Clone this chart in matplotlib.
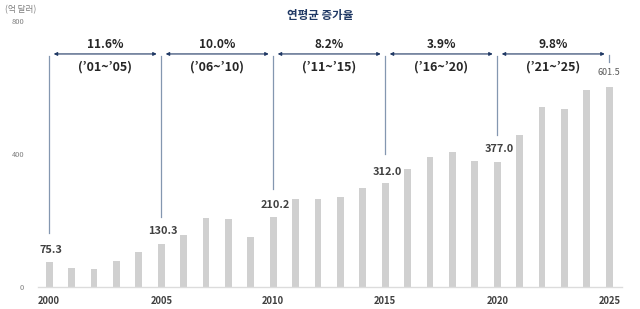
import matplotlib
matplotlib.use("Agg")
import matplotlib.pyplot as plt

plt.rcParams['font.family'] = ['Noto Sans CJK KR', 'DejaVu Sans']

years = list(range(2000, 2026))
values = [75.3, 59, 54, 80, 105, 130.3, 157, 208, 204, 152, 210.2, 266, 266, 271, 299,
          312.0, 356, 391, 407, 379, 377.0, 457, 542, 536, 593, 601.5]
label_years = [2000, 2005, 2010, 2015, 2020, 2025]
label_texts = ["75.3", "130.3", "210.2", "312.0", "377.0", "601.5"]
periods_start = [2000, 2005, 2010, 2015, 2020]
rates = ["11.6%", "10.0%", "8.2%", "3.9%", "9.8%"]
period_labels = ["('01~'05)", "('06~'10)", "('11~'15)", "('16~'20)", "('21~'25)"]
line_ends = [164, 211, 296, 401, 458]
xtick_years = [2000, 2005, 2010, 2015, 2020, 2025]
ytick_vals = [0, 400, 800]

W, H = 640, 309
fig = plt.figure(figsize=(6.4, 3.09), dpi=100)
ax = fig.add_axes([38 / W, (309 - 287.3) / H, 584 / W, (287.3 - 21) / H])
ax.set_xlim(1999.5, 2025.57)
ax.set_ylim(0, 800)

ax.bar(years, values, width=0.31, color='#d0d0d0', zorder=2)

for s in ['top', 'right', 'left']:
    ax.spines[s].set_visible(False)
ax.spines['bottom'].set_color('#dcdcdc')
ax.spines['bottom'].set_linewidth(1)

ax.set_xticks(xtick_years)
ax.set_xticklabels([str(y) for y in xtick_years], fontsize=6.8, fontweight='bold', color='#404040')
ax.set_yticks(ytick_vals)
ax.set_yticklabels([str(v) for v in ytick_vals], fontsize=5.4, color='#7f7f7f')
ax.tick_params(axis='x', length=0, pad=6)
ax.tick_params(axis='y', length=0, pad=10)

navy = '#1f3864'
vcol = '#8497b0'

# value labels
label_y = [112, 169, 247, 347, 416, 644]
for yr, txt, ly in zip(label_years, label_texts, label_y):
    if yr == 2025:
        ax.text(yr, ly, txt, ha='center', va='center', fontsize=6.5, color='#595959', clip_on=False)
    else:
        ax.text(yr + 0.08, ly, txt, ha='center', va='center', fontsize=7.9, fontweight='bold',
                color='#404040', clip_on=False)

# vertical lines
for x0, ye in zip(periods_start, line_ends):
    ax.plot([x0, x0], [ye, 696], color=vcol, lw=0.9, clip_on=False, zorder=3)
ax.plot([2025, 2025], [677, 698], color=vcol, lw=0.9, clip_on=False, zorder=3)

# arrows and texts
for x0, r, p in zip(periods_start, rates, period_labels):
    ax.annotate('', xy=(x0 + 4.8, 701), xytext=(x0 + 0.2, 701),
                arrowprops=dict(arrowstyle='<|-|>', color=navy, lw=0.8,
                                mutation_scale=5, shrinkA=0, shrinkB=0),
                annotation_clip=False)
    ax.text(x0 + 2.5, 729, r, ha='center', va='center', fontsize=8.6, fontweight='bold',
            color='#262626', clip_on=False)
    ax.text(x0 + 2.5, 662, p.replace("'", "\u2019"), ha='center', va='center', fontsize=9,
            fontweight='bold', color='#262626', clip_on=False)

ax.text(2012.1, 818, '연평균 증가율', ha='center', va='center', fontsize=8.3, fontweight='bold',
        color=navy, clip_on=False)
fig.text(21 / W, 1 - 10 / H, '(억 달러)', ha='center', va='center', fontsize=6.2, color='#7f7f7f')

fig.savefig('out.png', dpi=100)
